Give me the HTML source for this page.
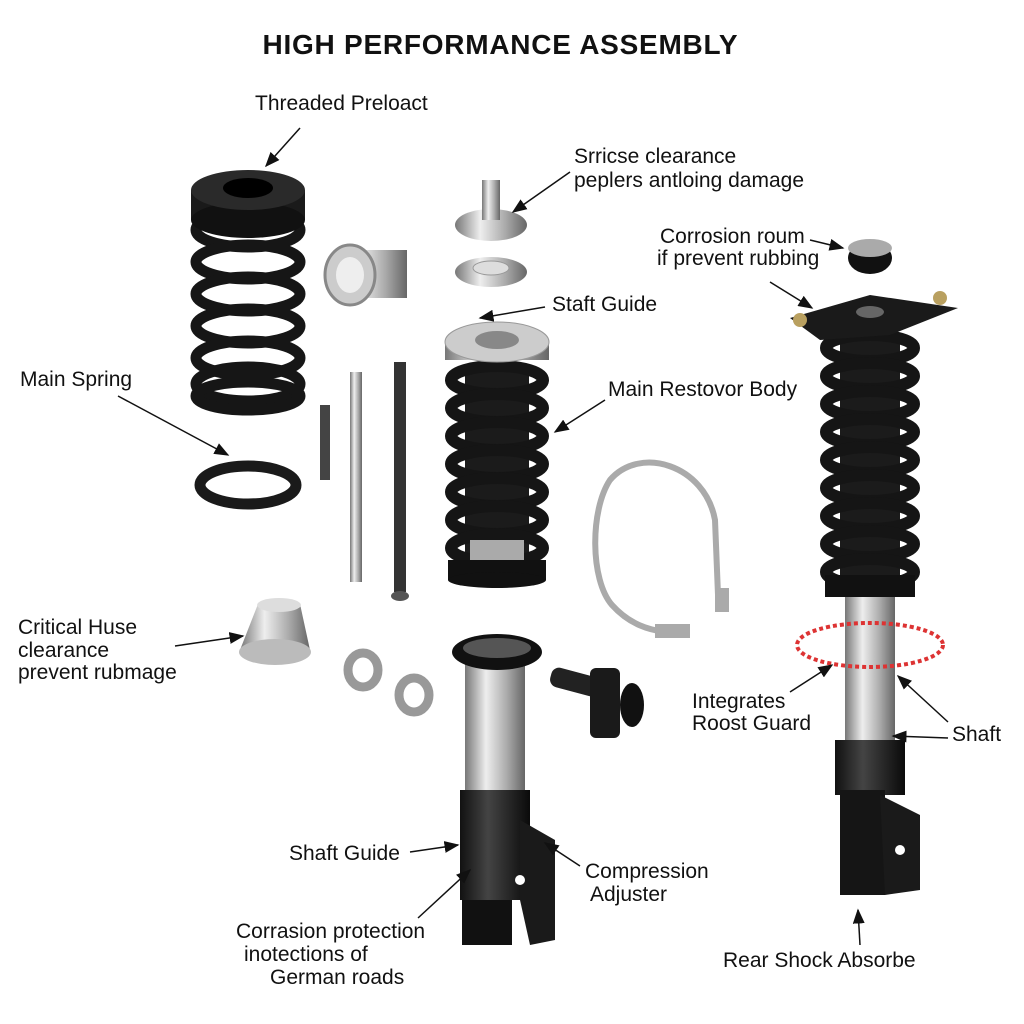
<!DOCTYPE html>
<html><head><style>html,body{margin:0;padding:0;background:#fff}svg{display:block}</style></head>
<body>
<svg width="1024" height="1024" viewBox="0 0 1024 1024" xmlns="http://www.w3.org/2000/svg" font-family="Liberation Sans, sans-serif">
<defs>
<linearGradient id="sil" x1="0" x2="1"><stop offset="0" stop-color="#777"/><stop offset=".35" stop-color="#eee"/><stop offset=".7" stop-color="#aaa"/><stop offset="1" stop-color="#666"/></linearGradient>
<linearGradient id="blk" x1="0" x2="1"><stop offset="0" stop-color="#111"/><stop offset=".4" stop-color="#444"/><stop offset="1" stop-color="#0a0a0a"/></linearGradient>
<marker id="ah" markerWidth="10" markerHeight="8" refX="9" refY="4" orient="auto"><path d="M0,0 L10,4 L0,8 z" fill="#111"/></marker>
</defs>
<rect width="1024" height="1024" fill="#fff"/>
<text x="500" y="54" text-anchor="middle" font-size="28" font-weight="bold" fill="#111" textLength="475">HIGH PERFORMANCE ASSEMBLY</text>

<!-- left spring -->
<g fill="none" stroke="#161616" stroke-width="11">
<ellipse cx="248" cy="230" rx="52" ry="17"/><ellipse cx="248" cy="262" rx="52" ry="17"/>
<ellipse cx="248" cy="294" rx="52" ry="17"/><ellipse cx="248" cy="326" rx="52" ry="17"/>
<ellipse cx="248" cy="358" rx="52" ry="17"/><ellipse cx="248" cy="384" rx="52" ry="17"/>
<ellipse cx="248" cy="396" rx="52" ry="14"/>
</g>
<rect x="191" y="190" width="114" height="30" fill="#1a1a1a"/>
<ellipse cx="248" cy="220" rx="57" ry="18" fill="#111"/>
<ellipse cx="248" cy="190" rx="57" ry="20" fill="#2a2a2a"/>
<ellipse cx="248" cy="188" rx="25" ry="10" fill="#000"/>
<ellipse cx="248" cy="485" rx="48" ry="19" fill="none" stroke="#1a1a1a" stroke-width="11"/>

<!-- silver parts -->
<rect x="335" y="250" width="72" height="48" fill="url(#sil)"/>
<ellipse cx="350" cy="275" rx="25" ry="30" fill="#ccc" stroke="#888" stroke-width="3"/>
<ellipse cx="350" cy="275" rx="14" ry="18" fill="#eee"/>
<ellipse cx="491" cy="225" rx="36" ry="16" fill="url(#sil)"/>
<rect x="482" y="180" width="18" height="40" fill="url(#sil)"/>
<ellipse cx="491" cy="272" rx="36" ry="15" fill="url(#sil)"/>
<ellipse cx="491" cy="268" rx="18" ry="7" fill="#ddd" stroke="#999"/>

<!-- rods -->
<rect x="320" y="405" width="10" height="75" fill="#444"/>
<rect x="350" y="372" width="12" height="210" fill="url(#sil)"/>
<rect x="394" y="362" width="12" height="230" fill="#333"/>
<ellipse cx="400" cy="596" rx="9" ry="5" fill="#555"/>

<!-- middle coilover -->
<rect x="465" y="370" width="64" height="190" fill="#1b1b1b"/>
<g fill="none" stroke="#151515" stroke-width="12">
<ellipse cx="497" cy="380" rx="46" ry="14"/><ellipse cx="497" cy="408" rx="46" ry="14"/>
<ellipse cx="497" cy="436" rx="46" ry="14"/><ellipse cx="497" cy="464" rx="46" ry="14"/>
<ellipse cx="497" cy="492" rx="46" ry="14"/><ellipse cx="497" cy="520" rx="46" ry="14"/>
<ellipse cx="497" cy="548" rx="46" ry="14"/>
</g>
<rect x="470" y="540" width="54" height="22" fill="#aaa"/>
<rect x="448" y="560" width="98" height="20" fill="#111"/>
<ellipse cx="497" cy="580" rx="49" ry="8" fill="#111"/>
<rect x="445" y="342" width="104" height="18" fill="url(#sil)"/>
<ellipse cx="497" cy="342" rx="52" ry="20" fill="#ccc" stroke="#999"/>
<ellipse cx="497" cy="340" rx="22" ry="9" fill="#888"/>

<!-- hose -->
<path d="M718 595 L715 520 C705 465 640 445 610 480 C590 510 590 580 612 605 C630 625 650 630 665 632" fill="none" stroke="#aaa" stroke-width="6"/>
<rect x="715" y="588" width="14" height="24" fill="#aaa"/>
<rect x="655" y="624" width="35" height="14" fill="#aaa"/>

<!-- small silver -->
<path d="M258 604 L300 604 L310 650 L240 650 Z" fill="url(#sil)"/>
<ellipse cx="275" cy="652" rx="36" ry="13" fill="#bbb"/>
<ellipse cx="279" cy="605" rx="22" ry="7" fill="#ddd"/>
<ellipse cx="363" cy="670" rx="15" ry="17" fill="none" stroke="#999" stroke-width="9"/>
<ellipse cx="414" cy="695" rx="15" ry="17" fill="none" stroke="#999" stroke-width="9"/>

<!-- adjuster -->
<rect x="550" y="672" width="50" height="20" rx="8" fill="#222" transform="rotate(15 575 682)"/>
<rect x="590" y="668" width="30" height="70" rx="6" fill="#1a1a1a"/>
<ellipse cx="632" cy="705" rx="12" ry="22" fill="#111"/>

<!-- bottom shock -->
<rect x="465" y="660" width="60" height="135" fill="url(#sil)"/>
<ellipse cx="497" cy="652" rx="45" ry="18" fill="#111"/>
<ellipse cx="497" cy="648" rx="34" ry="10" fill="#555"/>
<rect x="460" y="790" width="70" height="110" fill="url(#blk)"/>
<rect x="462" y="900" width="50" height="45" fill="#111"/>
<path d="M520 820 L555 840 L555 940 L530 945 L520 900 Z" fill="#1a1a1a"/>
<circle cx="520" cy="880" r="5" fill="#fff"/>

<!-- right coilover -->
<rect x="845" y="595" width="50" height="145" fill="url(#sil)"/>
<rect x="840" y="340" width="60" height="255" fill="#1b1b1b"/>
<g fill="none" stroke="#151515" stroke-width="12">
<ellipse cx="870" cy="348" rx="44" ry="13"/><ellipse cx="870" cy="376" rx="44" ry="13"/>
<ellipse cx="870" cy="404" rx="44" ry="13"/><ellipse cx="870" cy="432" rx="44" ry="13"/>
<ellipse cx="870" cy="460" rx="44" ry="13"/><ellipse cx="870" cy="488" rx="44" ry="13"/>
<ellipse cx="870" cy="516" rx="44" ry="13"/><ellipse cx="870" cy="544" rx="44" ry="13"/>
<ellipse cx="870" cy="572" rx="44" ry="13"/>
</g>
<rect x="825" y="575" width="90" height="22" fill="#111"/>
<path d="M790 318 L870 295 L958 308 L890 335 L820 340 Z" fill="#1a1a1a"/>
<ellipse cx="870" cy="312" rx="14" ry="6" fill="#666"/>
<circle cx="800" cy="320" r="7" fill="#b9a060"/>
<circle cx="940" cy="298" r="7" fill="#b9a060"/>
<ellipse cx="870" cy="258" rx="22" ry="16" fill="#111"/>
<ellipse cx="870" cy="248" rx="22" ry="9" fill="#aaa"/>
<ellipse cx="870" cy="645" rx="73" ry="22" fill="none" stroke="#d33" stroke-width="4" stroke-dasharray="4 3"/>
<rect x="835" y="740" width="70" height="55" fill="url(#blk)"/>
<rect x="840" y="790" width="45" height="105" fill="#151515"/>
<path d="M880 795 L920 815 L920 890 L885 895 Z" fill="#1a1a1a"/>
<circle cx="900" cy="850" r="5" fill="#fff"/>

<!-- labels -->
<g font-size="21" fill="#111">
<text x="255" y="110">Threaded Preloact</text>
<text x="574" y="163">Srricse clearance</text>
<text x="574" y="187">peplers antloing damage</text>
<text x="660" y="243">Corrosion roum</text>
<text x="657" y="265">if prevent rubbing</text>
<text x="552" y="311">Staft Guide</text>
<text x="20" y="386">Main Spring</text>
<text x="608" y="396">Main Restovor Body</text>
<text x="18" y="634">Critical Huse</text>
<text x="18" y="657">clearance</text>
<text x="18" y="679">prevent rubmage</text>
<text x="692" y="708">Integrates</text>
<text x="692" y="730">Roost Guard</text>
<text x="952" y="741">Shaft</text>
<text x="289" y="860">Shaft Guide</text>
<text x="585" y="878">Compression</text>
<text x="590" y="901">Adjuster</text>
<text x="236" y="938">Corrasion protection</text>
<text x="244" y="961">inotections of</text>
<text x="270" y="984">German roads</text>
<text x="723" y="967">Rear Shock Absorbe</text>
</g>
<g stroke="#111" stroke-width="1.5" marker-end="url(#ah)" fill="none">
<line x1="300" y1="128" x2="266" y2="166"/>
<line x1="570" y1="172" x2="513" y2="212"/>
<line x1="810" y1="240" x2="843" y2="248"/>
<line x1="770" y1="282" x2="812" y2="308"/>
<line x1="545" y1="307" x2="480" y2="318"/>
<line x1="118" y1="396" x2="228" y2="455"/>
<line x1="605" y1="400" x2="555" y2="432"/>
<line x1="175" y1="646" x2="243" y2="636"/>
<line x1="790" y1="692" x2="832" y2="665"/>
<line x1="948" y1="722" x2="898" y2="676"/>
<line x1="948" y1="738" x2="893" y2="736"/>
<line x1="410" y1="852" x2="458" y2="845"/>
<line x1="580" y1="866" x2="545" y2="843"/>
<line x1="418" y1="918" x2="470" y2="870"/>
<line x1="860" y1="945" x2="858" y2="910"/>
</g>
</svg>
</body></html>
